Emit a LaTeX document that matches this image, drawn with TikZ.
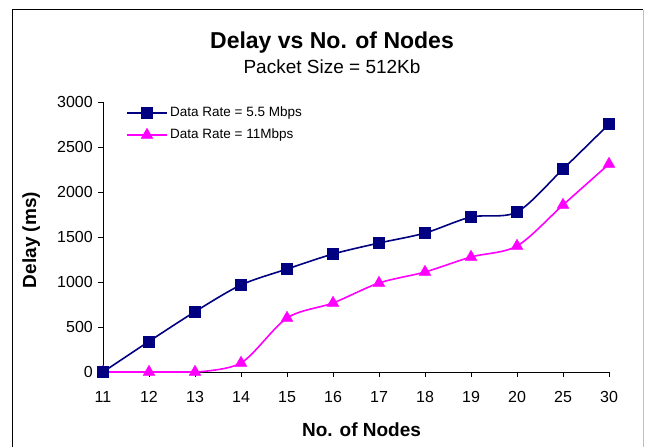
\documentclass[tikz,border=0pt]{standalone}
\usepackage{fontspec}
\setmainfont{Liberation Sans}
\usetikzlibrary{plotmarks}
\definecolor{navyline}{RGB}{0,0,128}
\definecolor{magline}{RGB}{255,0,255}
\definecolor{framegray}{RGB}{190,190,190}
\tikzset{
  ticklab/.style={font=\fontsize{16}{18}\selectfont, inner sep=0pt},
  lineA/.style={navyline, line width=1.6pt},
  lineB/.style={magline, line width=1.6pt},
  serA/.style={lineA, mark=square*, mark size=5.5pt, mark options={solid, fill=navyline, line width=0.4pt}},
  serB/.style={lineB, mark=triangle*, mark size=6.8pt, mark options={solid, fill=magline, line width=0.4pt}},
  axisline/.style={black, line width=0.8pt},
  legtext/.style={anchor=west, inner sep=0pt, font=\fontsize{13.5}{15}\selectfont},
}
\begin{document}
\begin{tikzpicture}[x=1pt,y=1pt]
\useasboundingbox (0,0) rectangle (645,447);
\fill[white] (0,0) rectangle (645,447);
% frame
\draw[black, line width=1pt] (12,0) -- (12,437) -- (643,437);
\draw[framegray, line width=1pt] (643,437) -- (643,0);
% titles
\node[anchor=base, inner sep=0pt, font=\fontsize{23}{26}\selectfont\bfseries] (title) at (332,398) {Delay vs No. of Nodes};
\node[anchor=base, inner sep=0pt, font=\fontsize{19}{22}\selectfont] (subtitle) at (332,373) {Packet Size = 512Kb};
\node[anchor=base, inner sep=0pt, font=\fontsize{19}{22}\selectfont\bfseries] (xlabel) at (361.5,11) {No. of Nodes};
\node[anchor=base, inner sep=0pt, rotate=90, font=\fontsize{19}{22}\selectfont\bfseries] (ylabel) at (36,207) {Delay (ms)};
% axes
\coordinate (O) at (103,75);
\coordinate (Ytop) at (103,345);
\coordinate (Xend) at (609,75);
\draw[axisline] (Ytop) -- (O) -- (Xend);
\foreach \v [count=\k from 0] in {0,500,1000,1500,2000,2500,3000} {
  \draw[axisline] (98,75+\k*45) -- (103,75+\k*45);
  \node[ticklab, anchor=east] (yt\k) at (93,75+\k*45) {\v};
}
\foreach \l [count=\k from 0] in {11,12,13,14,15,16,17,18,19,20,25,30} {
  \draw[axisline] (103+\k*46,75) -- (103+\k*46,70);
  \node[ticklab, anchor=base] (xt\k) at (103+\k*46,45) {\l};
}
% data
\begin{scope}[x=46pt, y=0.09pt, xshift=103pt, yshift=75pt]
\draw[lineB] (0,0) -- (2,0);
\draw[lineB] plot[smooth, tension=0.5] coordinates {(2,0) (3,100) (4,600) (5,767) (6,989) (7,1111) (8,1278) (9,1400) (10,1856) (11,2311)};
\draw[serB] plot[only marks] coordinates {(0,0) (1,0) (2,0) (3,100) (4,600) (5,767) (6,989) (7,1111) (8,1278) (9,1400) (10,1856) (11,2311)};
\draw[serA] plot[smooth, tension=0.5] coordinates {(0,0) (1,340) (2,670) (3,967) (4,1144) (5,1311) (6,1433) (7,1544) (8,1722) (9,1778) (10,2255) (11,2755)};
\end{scope}
% legend
\coordinate (la1) at (127,334); \coordinate (la2) at (167,334);
\coordinate (lb1) at (127,312); \coordinate (lb2) at (167,312);
\draw[lineA] (la1) -- (la2);
\draw[serA] plot[only marks] coordinates {(147,334)};
\node[legtext] (legA) at (170,334) {Data Rate = 5.5 Mbps};
\draw[lineB] (lb1) -- (lb2);
\draw[serB] plot[only marks] coordinates {(147,312)};
\node[legtext] (legB) at (170,312) {Data Rate = 11Mbps};
\end{tikzpicture}
\end{document}
